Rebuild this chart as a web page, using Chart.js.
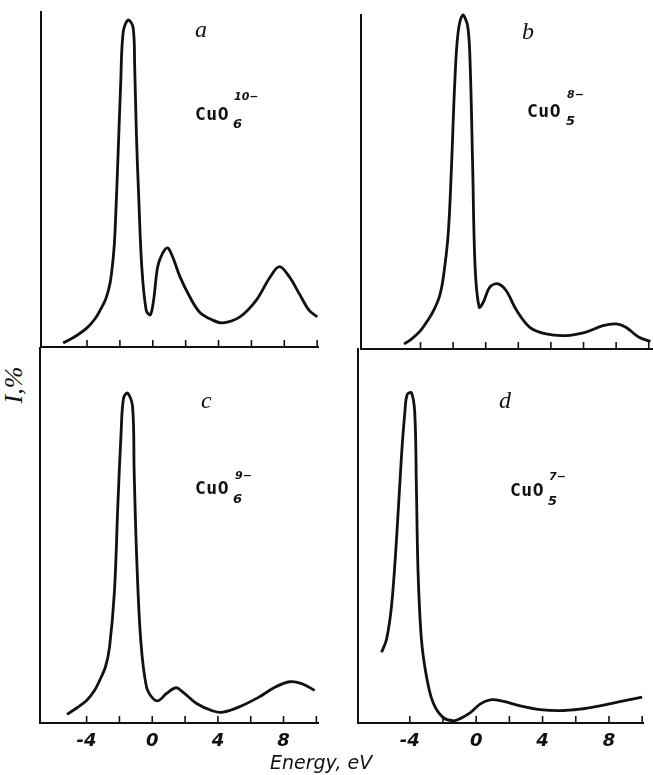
<!DOCTYPE html>
<html>
<head>
<meta charset="utf-8">
<script src="https://cdn.jsdelivr.net/npm/chart.js@4"></script>
<style>
  body { margin:0; background:#fff; }
  #fig { position:relative; width:653px; height:775px; overflow:hidden; }
  canvas { position:absolute; }
  .t { position:absolute; color:#111; white-space:nowrap; line-height:1; }
  .lbl { font-family:"Liberation Serif", serif; font-style:italic; font-size:24px; }
  .cu  { font-family:"DejaVu Sans Mono", monospace; font-weight:bold; font-size:18px; letter-spacing:0.5px; }
  .sm  { font-family:"DejaVu Sans", sans-serif; font-weight:bold; font-style:italic; font-size:11px; }
  .ax  { font-family:"DejaVu Sans", sans-serif; font-style:italic; font-size:19px; }
</style>
</head>
<body>
<div id="fig">
  <canvas id="cA" style="left:30px;top:0px" width="300" height="352"></canvas>
  <canvas id="cB" style="left:350px;top:0px" width="303" height="354"></canvas>
  <canvas id="cC" style="left:30px;top:340px" width="300" height="420"></canvas>
  <canvas id="cD" style="left:348px;top:340px" width="305" height="420"></canvas>

  <div class="t lbl" style="left:195px;top:17px">a</div>
  <div class="t cu"  style="left:195px;top:105px">CuO</div>
  <div class="t sm"  style="left:234px;top:91px">10−</div>
  <div class="t sm"  style="left:233px;top:117px;font-size:13px">6</div>

  <div class="t lbl" style="left:522px;top:19px">b</div>
  <div class="t cu"  style="left:527px;top:102px">CuO</div>
  <div class="t sm"  style="left:567px;top:89px">8−</div>
  <div class="t sm"  style="left:566px;top:114px;font-size:13px">5</div>

  <div class="t lbl" style="left:201px;top:388px">c</div>
  <div class="t cu"  style="left:195px;top:479px">CuO</div>
  <div class="t sm"  style="left:235px;top:470px">9−</div>
  <div class="t sm"  style="left:233px;top:492px;font-size:13px">6</div>

  <div class="t lbl" style="left:499px;top:388px">d</div>
  <div class="t cu"  style="left:510px;top:481px">CuO</div>
  <div class="t sm"  style="left:549px;top:471px">7−</div>
  <div class="t sm"  style="left:548px;top:494px;font-size:13px">5</div>

  <div class="t ax" style="left:-4px;top:372px;transform:rotate(-90deg);font-family:'Liberation Serif',serif;font-size:26px">I,%</div>
  <div class="t ax" style="left:270px;top:753px">Energy, eV</div>
</div>
<script>
// energy ticks (eV) and which ones get a number
const tickValues = [-4, -2, 0, 2, 4, 6, 8, 10];
const labeledTicks = [-4, 0, 4, 8];

// a) CuO6 10-
const aEnergy    = [-5.45, -4.7, -4, -3.5, -3.2, -2.85, -2.6, -2.4, -2.3, -2.1, -1.95, -1.8, -1.5, -1.2, -1.1, -1.0, -0.85, -0.67, -0.4, -0.15, 0.05, 0.3, 0.6, 0.9, 1.2, 1.65, 2.25, 2.85, 3.65, 4.25, 5.3, 6.3, 7.1, 7.7, 8.3, 8.9, 9.5, 10.0];
const aIntensity = [1.2, 3.2, 5.7, 8.5, 11, 14.5, 19, 27, 34, 59, 79, 94, 97.6, 95.5, 83.6, 64, 44, 24, 11, 9.6, 14, 24, 28, 29.6, 27, 21, 15, 10.4, 8, 7.2, 9, 14, 20.6, 24, 21, 16, 11, 9];

// b) CuO5 8-
const bEnergy    = [-5.0, -4.5, -4.0, -3.5, -3.2, -2.85, -2.6, -2.3, -2.1, -1.9, -1.7, -1.4, -1.1, -0.95, -0.8, -0.65, -0.4, -0.15, 0.25, 0.75, 1.25, 1.9, 2.7, 3.7, 4.9, 6.1, 7.2, 8.0, 8.6, 9.4, 10.1];
const bIntensity = [1.5, 3.2, 5.5, 9, 11.5, 15.5, 21.5, 34.5, 54.5, 79.5, 94.5, 100, 96.5, 84.5, 54.5, 24.5, 12.5, 14, 18.5, 19.5, 17.5, 11.5, 6.5, 4.5, 4, 5, 7, 7.5, 6.5, 3.5, 2.3];

// c) CuO6 9-
const cEnergy    = [-5.2, -4.6, -4.0, -3.5, -3.2, -2.85, -2.6, -2.3, -2.1, -1.9, -1.75, -1.5, -1.2, -1.1, -0.95, -0.7, -0.35, 0.05, 0.4, 0.85, 1.45, 1.85, 2.7, 3.7, 4.3, 5.3, 6.5, 7.5, 8.4, 9.1, 9.9];
const cIntensity = [2.3, 4, 6, 8.8, 11.4, 15, 20.3, 35.4, 57.7, 77.3, 86.6, 88, 84.4, 66.6, 44.3, 22, 9.6, 6.5, 6, 7.8, 9.4, 8.3, 5.2, 3.2, 2.9, 4.3, 6.9, 9.6, 11, 10.5, 8.7];

// d) CuO5 7-
const dEnergy    = [-5.7, -5.4, -5.1, -4.8, -4.5, -4.3, -4.16, -3.9, -3.7, -3.6, -3.5, -3.3, -3.0, -2.6, -2.0, -1.4, -1.0, -0.35, 0.25, 0.85, 1.45, 2.65, 3.85, 5.05, 6.25, 7.45, 8.65, 10.0];
const dIntensity = [18.9, 22.4, 31.3, 49.1, 71.4, 82.9, 87.8, 88.3, 82.9, 62.5, 40.2, 22.4, 12.6, 5.5, 1.5, 0.6, 1.1, 2.8, 5.1, 6.2, 6, 4.6, 3.6, 3.3, 3.7, 4.6, 5.7, 6.9];

// small upward ticks sitting on the energy axis
const innerTicks = {
  id: 'innerTicks',
  afterDraw(chart){
    const { ctx, chartArea, scales } = chart;
    const x = scales.x;
    ctx.save();
    ctx.strokeStyle = '#111';
    ctx.lineWidth = 1.6;
    tickValues.forEach(v => {
      const px = x.getPixelForValue(v);
      ctx.beginPath();
      ctx.moveTo(px, chartArea.bottom);
      ctx.lineTo(px, chartArea.bottom - 7);
      ctx.stroke();
    });
    ctx.restore();
  }
};

function makePanel(id, energy, intensity, xMin, xMax, pad, showLabels){
  const pts = energy.map((e, i) => ({ x: e, y: intensity[i] }));
  return new Chart(document.getElementById(id), {
    type: 'line',
    data: { datasets: [{
      data: pts,
      borderColor: '#111',
      borderWidth: 2.8,
      pointRadius: 0,
      tension: 0.35,
      fill: false,
      clip: false
    }]},
    options: {
      responsive: false,
      animation: false,
      events: [],
      layout: { padding: pad },
      plugins: { legend: { display: false }, tooltip: { enabled: false } },
      scales: {
        x: {
          type: 'linear', min: xMin, max: xMax,
          afterBuildTicks: s => { s.ticks = tickValues.map(v => ({ value: v })); },
          afterFit: s => { s.height = showLabels ? 30 : 0; },
          grid: { display: false, drawTicks: false },
          border: { display: true, color: '#111', width: 2 },
          ticks: {
            display: showLabels,
            padding: 8,
            autoSkip: false,
            maxRotation: 0,
            color: '#111',
            font: { family: 'DejaVu Sans', style: 'italic', weight: 'bold', size: 18 },
            callback: v => labeledTicks.includes(v) ? String(v) : ''
          }
        },
        y: {
          min: 0, max: 100,
          afterFit: s => { s.width = 0; },
          grid: { display: false, drawTicks: false },
          border: { display: true, color: '#111', width: 2 },
          ticks: { display: false }
        }
      }
    },
    plugins: [innerTicks]
  });
}

makePanel('cA', aEnergy, aIntensity, -6.8, 10.05, { left: 11, top: 12, right: 12, bottom: 5 }, false);
makePanel('cB', bEnergy, bIntensity, -7.65, 10.2, { left: 11, top: 15, right: 1, bottom: 5 }, false);
makePanel('cC', cEnergy, cIntensity, -6.84, 10.1, { left: 10, top: 8, right: 12, bottom: 7 }, true);
makePanel('cD', dEnergy, dIntensity, -7.12, 10.05, { left: 10, top: 9, right: 10, bottom: 7 }, true);
</script>
</body>
</html>
